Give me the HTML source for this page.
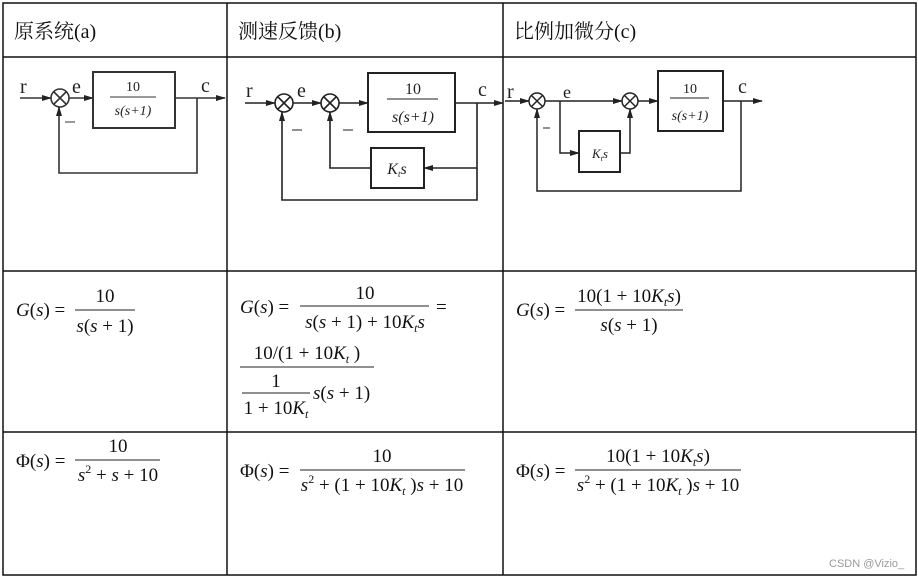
<!DOCTYPE html>
<html><head><meta charset="utf-8"><style>
html,body{margin:0;padding:0;background:#fff;}
svg{display:block;}
.h{font-family:"Liberation Serif","Noto Serif CJK SC","Noto Sans CJK SC",serif;font-size:20px;fill:#111;}
.m{font-family:"Liberation Serif",serif;font-size:19px;fill:#111;}
.d{font-family:"Liberation Serif",serif;fill:#222;}
.i{font-style:italic;}
</style></head><body>
<svg width="918" height="578" viewBox="0 0 918 578" xmlns="http://www.w3.org/2000/svg">
<defs><marker id="ar" markerWidth="10" markerHeight="8" refX="9" refY="4" orient="auto" markerUnits="userSpaceOnUse"><path d="M0,1 L10,4 L0,7 Z" fill="#222"/></marker></defs>
<!-- grid -->
<g stroke="#111" stroke-width="1.5" fill="none">
<rect x="3" y="3" width="913" height="572"/>
<line x1="3" y1="57" x2="916" y2="57"/><line x1="3" y1="271" x2="916" y2="271"/><line x1="3" y1="432" x2="916" y2="432"/>
<line x1="227" y1="3" x2="227" y2="575"/><line x1="503" y1="3" x2="503" y2="575"/>
</g>
<text class="h" x="14" y="38">原系统(a)</text>
<text class="h" x="238" y="38">测速反馈(b)</text>
<text class="h" x="514" y="38">比例加微分(c)</text>

<!-- diagram a -->
<g stroke="#333" stroke-width="1.6" fill="none">
<line x1="20" y1="98" x2="51" y2="98" marker-end="url(#ar)"/>
<circle cx="60" cy="98" r="9"/><line x1="54" y1="92" x2="66" y2="104"/><line x1="66" y1="92" x2="54" y2="104"/>
<line x1="69" y1="98" x2="93" y2="98" marker-end="url(#ar)"/>
<rect x="93" y="72" width="82" height="56" stroke-width="2"/>
<line x1="110" y1="97" x2="156" y2="97" stroke-width="1"/>
<line x1="175" y1="98" x2="225" y2="98" marker-end="url(#ar)"/>
<polyline points="197,98 197,173 59,173 59,107" marker-end="url(#ar)"/>
<line x1="65" y1="122" x2="75" y2="122" stroke-width="1"/>
</g>
<text class="d" x="20" y="93" font-size="20">r</text>
<text class="d" x="72" y="93" font-size="20">e</text>
<text class="d" x="201" y="92" font-size="20">c</text>
<text class="d" x="133" y="91" font-size="14" text-anchor="middle">10</text>
<text class="d i" x="133" y="115" font-size="14" text-anchor="middle">s(s+1)</text>

<!-- diagram b -->
<g stroke="#222" stroke-width="1.6" fill="none">
<line x1="245" y1="103" x2="275" y2="103" marker-end="url(#ar)"/>
<circle cx="284" cy="103" r="9"/><line x1="278" y1="97" x2="290" y2="109"/><line x1="290" y1="97" x2="278" y2="109"/>
<line x1="293" y1="103" x2="321" y2="103" marker-end="url(#ar)"/>
<circle cx="330" cy="103" r="9"/><line x1="324" y1="97" x2="336" y2="109"/><line x1="336" y1="97" x2="324" y2="109"/>
<line x1="339" y1="103" x2="368" y2="103" marker-end="url(#ar)"/>
<rect x="368" y="73" width="87" height="59" stroke-width="2"/>
<line x1="387" y1="99" x2="438" y2="99" stroke-width="1"/>
<line x1="455" y1="103" x2="503" y2="103" marker-end="url(#ar)"/>
<polyline points="477,103 477,168 424,168" marker-end="url(#ar)"/>
<rect x="371" y="148" width="53" height="40" stroke-width="2"/>
<polyline points="371,168 330,168 330,112" marker-end="url(#ar)"/>
<polyline points="477,168 477,200 282,200 282,112" marker-end="url(#ar)"/>
<line x1="292" y1="130" x2="302" y2="130" stroke-width="1"/><line x1="343" y1="130" x2="353" y2="130" stroke-width="1"/>
</g>
<text class="d" x="246" y="97" font-size="20">r</text>
<text class="d" x="297" y="97" font-size="20">e</text>
<text class="d" x="478" y="96" font-size="20">c</text>
<text class="d" x="413" y="94" font-size="16" text-anchor="middle">10</text>
<text class="d i" x="413" y="122" font-size="16" text-anchor="middle">s(s+1)</text>
<text class="d i" x="397" y="174" font-size="16" text-anchor="middle">K<tspan font-size="9" dy="3">t</tspan><tspan dy="-3">s</tspan></text>

<!-- diagram c -->
<g stroke="#222" stroke-width="1.5" fill="none">
<line x1="505" y1="101" x2="529" y2="101" marker-end="url(#ar)"/>
<circle cx="537" cy="101" r="8"/><line x1="531.5" y1="95.5" x2="542.5" y2="106.5"/><line x1="542.5" y1="95.5" x2="531.5" y2="106.5"/>
<line x1="545" y1="101" x2="622" y2="101" marker-end="url(#ar)"/>
<circle cx="630" cy="101" r="8"/><line x1="624.5" y1="95.5" x2="635.5" y2="106.5"/><line x1="635.5" y1="95.5" x2="624.5" y2="106.5"/>
<polyline points="560,101 560,153 579,153" marker-end="url(#ar)"/>
<rect x="579" y="131" width="41" height="41" stroke-width="2"/>
<polyline points="620,153 630,153 630,109" marker-end="url(#ar)"/>
<line x1="638" y1="101" x2="658" y2="101" marker-end="url(#ar)"/>
<rect x="658" y="71" width="65" height="60" stroke-width="2"/>
<line x1="670" y1="98" x2="709" y2="98" stroke-width="1"/>
<line x1="723" y1="101" x2="762" y2="101" marker-end="url(#ar)"/>
<polyline points="741,101 741,191 537,191 537,109" marker-end="url(#ar)"/>
<line x1="543" y1="128" x2="550" y2="128" stroke-width="1"/>
</g>
<text class="d" x="507" y="98" font-size="20">r</text>
<text class="d" x="563" y="98" font-size="18">e</text>
<text class="d" x="738" y="93" font-size="20">c</text>
<text class="d" x="690" y="93" font-size="14" text-anchor="middle">10</text>
<text class="d i" x="690" y="120" font-size="14" text-anchor="middle">s(s+1)</text>
<text class="d i" x="600" y="158" font-size="13" text-anchor="middle">K<tspan font-size="8" dy="3">t</tspan><tspan dy="-3">s</tspan></text>

<!-- formulas row 2 -->
<g stroke="#222" stroke-width="1">
<line x1="75" y1="310" x2="135" y2="310"/>
<line x1="300" y1="306" x2="429" y2="306"/>
<line x1="240" y1="367" x2="374" y2="367"/>
<line x1="242" y1="393" x2="310" y2="393"/>
<line x1="575" y1="310" x2="683" y2="310"/>
<line x1="75" y1="460" x2="160" y2="460"/>
<line x1="300" y1="470" x2="465" y2="470"/>
<line x1="575" y1="470" x2="741" y2="470"/>
</g>
<text class="m" x="16" y="316"><tspan class="i">G</tspan>(<tspan class="i">s</tspan>) =</text>
<text class="m" x="105" y="302" text-anchor="middle">10</text>
<text class="m" x="105" y="332" text-anchor="middle"><tspan class="i">s</tspan>(<tspan class="i">s</tspan> + 1)</text>

<text class="m" x="240" y="313"><tspan class="i">G</tspan>(<tspan class="i">s</tspan>) =</text>
<text class="m" x="365" y="299" text-anchor="middle">10</text>
<text class="m" x="365" y="328" text-anchor="middle"><tspan class="i">s</tspan>(<tspan class="i">s</tspan> + 1) + 10<tspan class="i">K</tspan><tspan class="i" font-size="12" dy="4">t</tspan><tspan class="i" dy="-4">s</tspan></text>
<text class="m" x="436" y="313">=</text>
<text class="m" x="307" y="359" text-anchor="middle">10/(1 + 10<tspan class="i">K</tspan><tspan class="i" font-size="12" dy="4">t</tspan><tspan dy="-4"> )</tspan></text>
<text class="m" x="276" y="387" text-anchor="middle">1</text>
<text class="m" x="276" y="414" text-anchor="middle">1 + 10<tspan class="i">K</tspan><tspan class="i" font-size="12" dy="4">t</tspan></text>
<text class="m" x="313" y="399"><tspan class="i">s</tspan>(<tspan class="i">s</tspan> + 1)</text>

<text class="m" x="516" y="316"><tspan class="i">G</tspan>(<tspan class="i">s</tspan>) =</text>
<text class="m" x="629" y="302" text-anchor="middle">10(1 + 10<tspan class="i">K</tspan><tspan class="i" font-size="12" dy="4">t</tspan><tspan class="i" dy="-4">s</tspan>)</text>
<text class="m" x="629" y="331" text-anchor="middle"><tspan class="i">s</tspan>(<tspan class="i">s</tspan> + 1)</text>

<!-- row 3 -->
<text class="m" x="16" y="467">Φ(<tspan class="i">s</tspan>) =</text>
<text class="m" x="118" y="452" text-anchor="middle">10</text>
<text class="m" x="118" y="481" text-anchor="middle"><tspan class="i">s</tspan><tspan font-size="12" dy="-8">2</tspan><tspan dy="8"> + </tspan><tspan class="i">s</tspan> + 10</text>

<text class="m" x="240" y="477">Φ(<tspan class="i">s</tspan>) =</text>
<text class="m" x="382" y="462" text-anchor="middle">10</text>
<text class="m" x="382" y="491" text-anchor="middle"><tspan class="i">s</tspan><tspan font-size="12" dy="-8">2</tspan><tspan dy="8"> + (1 + 10</tspan><tspan class="i">K</tspan><tspan class="i" font-size="12" dy="4">t</tspan><tspan dy="-4"> )</tspan><tspan class="i">s</tspan> + 10</text>

<text class="m" x="516" y="477">Φ(<tspan class="i">s</tspan>) =</text>
<text class="m" x="658" y="462" text-anchor="middle">10(1 + 10<tspan class="i">K</tspan><tspan class="i" font-size="12" dy="4">t</tspan><tspan class="i" dy="-4">s</tspan>)</text>
<text class="m" x="658" y="491" text-anchor="middle"><tspan class="i">s</tspan><tspan font-size="12" dy="-8">2</tspan><tspan dy="8"> + (1 + 10</tspan><tspan class="i">K</tspan><tspan class="i" font-size="12" dy="4">t</tspan><tspan dy="-4"> )</tspan><tspan class="i">s</tspan> + 10</text>

<text x="829" y="567" font-family="Liberation Sans,sans-serif" font-size="11" fill="#999">CSDN @Vizio_</text>
</svg>
</body></html>
